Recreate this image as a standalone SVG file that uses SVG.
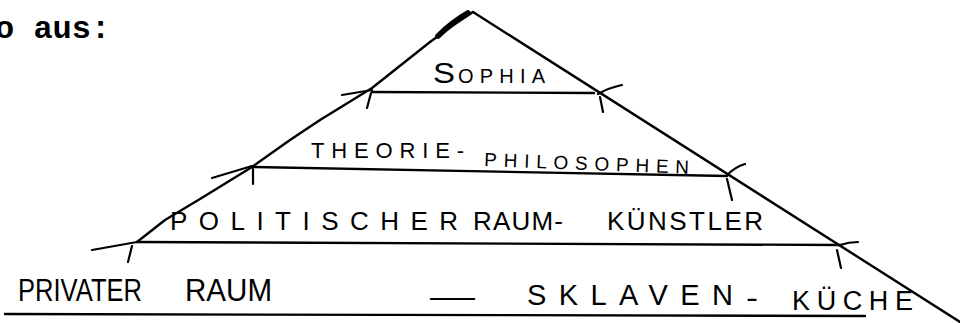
<svg xmlns="http://www.w3.org/2000/svg" width="960" height="323" viewBox="0 0 960 323">
<style>
.ln{fill:none;stroke:#000;stroke-width:2.4;stroke-linecap:round;stroke-linejoin:round}
.tk{fill:none;stroke:#000;stroke-width:2.2;stroke-linecap:round}
.hw{font-family:"Liberation Sans","DejaVu Sans",sans-serif;fill:#000}
.tw{font-family:"Liberation Mono","DejaVu Sans Mono",monospace;font-weight:bold;fill:#000}
</style>
<rect width="960" height="323" fill="#fff"/>
<text class="tw" x="-5" y="38" font-size="32">o aus:</text>

<g id="connectors">
  <path class="ln" d="M473,12 L455,24 L430,42 L372,88 L320,120 L290,140 L252,167 L200,199 L165,220 L137,242"/>
  <path class="ln" d="M473,12 L960,322"/>
  <path d="M438,36 Q452,22 468,13" fill="none" stroke="#000" stroke-width="5.5" stroke-linecap="round"/>
</g>

<g id="tier-sophia">
  <path class="ln" d="M372,92 L594,93"/>
  <path class="tk" d="M342,95 L372,90 M371,93 L367,108 M598,94 Q608,88 622,85 M600,97 L603,112"/>
  <text class="hw" x="433" y="83" font-size="29" textLength="22" lengthAdjust="spacingAndGlyphs">S</text>
  <text class="hw" x="458" y="83" font-size="20" textLength="87" lengthAdjust="spacing">OPHIA</text>
</g>

<g id="tier-theorie">
  <path class="ln" d="M252,167 L727,176"/>
  <path class="tk" d="M212,178 L252,166 M253,169 L253,184 M727,175 Q735,167 745,164 M727,179 L732,200"/>
  <text class="hw" x="311" y="158" font-size="22" textLength="153" lengthAdjust="spacing">THEORIE-</text>
  <text class="hw" x="484" y="166" font-size="19" textLength="205" lengthAdjust="spacing" transform="rotate(2.2 484 166)">PHILOSOPHEN</text>
</g>

<g id="tier-politisch">
  <path class="ln" d="M137,242 L840,245"/>
  <path class="tk" d="M92,250 L137,242 M132,246 L128,262 M840,245 Q849,242 858,242 M837,250 L841,268"/>
  <text class="hw" x="170" y="230" font-size="26" textLength="288" lengthAdjust="spacing">POLITISCHER</text>
  <text class="hw" x="473" y="230" font-size="26" textLength="90" lengthAdjust="spacing">RAUM-</text>
  <text class="hw" x="607" y="230" font-size="26" textLength="156" lengthAdjust="spacing">KÜNSTLER</text>
</g>

<g id="tier-privat">
  <path class="ln" d="M5,314 L865,316"/>
  <text class="hw" x="18" y="301" font-size="31" textLength="124" lengthAdjust="spacingAndGlyphs">PRIVATER</text>
  <text class="hw" x="185" y="301" font-size="31" textLength="87" lengthAdjust="spacingAndGlyphs">RAUM</text>
  <text class="hw" x="430" y="307" font-size="30" textLength="45" lengthAdjust="spacingAndGlyphs">—</text>
  <text class="hw" x="527" y="305" font-size="29" textLength="206" lengthAdjust="spacing">SKLAVEN</text>
  <text class="hw" x="746" y="307" font-size="28" textLength="12" lengthAdjust="spacingAndGlyphs">-</text>
  <text class="hw" x="792" y="310" font-size="27" textLength="121" lengthAdjust="spacing">KÜCHE</text>
</g>
</svg>
